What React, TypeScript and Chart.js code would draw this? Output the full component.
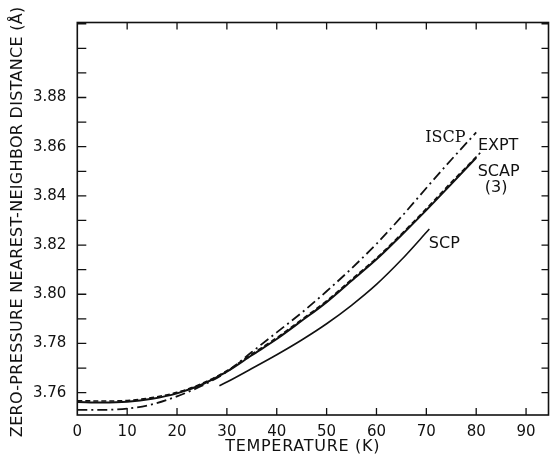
import React, { useEffect, useRef } from "react";
import { Chart, registerables } from "chart.js";

Chart.register(...registerables);

// ---- data (temperature in K, distance in Å) ----
const scapT = [0, 5, 10, 15, 20, 25, 30, 35, 40, 45, 50, 55, 60, 65, 70, 75, 80];
const scapD = [3.7562, 3.756, 3.7563, 3.7575, 3.7597, 3.7633, 3.7685, 3.7752, 3.7818, 3.7892, 3.7968, 3.8055, 3.8142, 3.824, 3.8342, 3.8448, 3.8555];

const exptT = [0, 5, 10, 15, 20, 25, 30, 35, 40, 45, 50, 55, 60, 65, 70, 75, 80.8];
const exptD = [3.7567, 3.7566, 3.7568, 3.758, 3.7601, 3.7637, 3.7689, 3.7757, 3.7823, 3.7897, 3.7973, 3.806, 3.8147, 3.8245, 3.8348, 3.8455, 3.8575];

const iscpT = [0, 5, 10, 15, 20, 25, 30, 35, 40, 45, 50, 55, 60, 65, 70, 75, 80];
const iscpD = [3.753, 3.753, 3.7535, 3.7552, 3.7585, 3.7628, 3.7685, 3.7765, 3.7845, 3.7925, 3.8012, 3.8105, 3.8205, 3.8315, 3.8432, 3.8547, 3.8658];

const scpT = [28.5, 30, 35, 40, 45, 50, 55, 60, 65, 70.6];
const scpD = [3.7628, 3.7643, 3.7698, 3.7754, 3.7814, 3.788, 3.7955, 3.804, 3.814, 3.8265];

const yLabelValues = [3.76, 3.78, 3.8, 3.82, 3.84, 3.86, 3.88];
const xTitle = "TEMPERATURE (K)";
const yTitle = "ZERO-PRESSURE NEAREST-NEIGHBOR DISTANCE (Å)";

// curve annotations: text, anchor temperature, anchor distance
const curveLabels = [
  { text: "ISCP", t: 73.8, d: 3.8637, serif: true },
  { text: "EXPT", t: 84.4, d: 3.8602, serif: false },
  { text: "SCAP", t: 84.5, d: 3.8496, serif: false },
  { text: "(3)", t: 84.0, d: 3.8433, serif: false },
  { text: "SCP", t: 73.6, d: 3.8203, serif: false },
];

const pts = (xs: number[], ys: number[]) => xs.map((x, i) => ({ x, y: ys[i] }));

const FONT = "'DejaVu Sans', sans-serif";

const framePlugin = {
  id: "frameAndTicks",
  afterDraw(chart: any) {
    const { ctx, chartArea: a, scales } = chart;
    const xs = scales.x;
    const ys = scales.y;
    ctx.save();
    ctx.strokeStyle = "#111";
    ctx.lineWidth = 1.6;
    ctx.strokeRect(a.left, a.top, a.right - a.left, a.bottom - a.top);
    ctx.lineWidth = 1.3;
    ctx.beginPath();
    xs.ticks.forEach((tk: any) => {
      if (tk.value <= 0) return;
      const px = xs.getPixelForValue(tk.value);
      ctx.moveTo(px, a.bottom);
      ctx.lineTo(px, a.bottom - 7);
      ctx.moveTo(px, a.top);
      ctx.lineTo(px, a.top + 7);
    });
    ys.ticks.forEach((tk: any) => {
      const py = ys.getPixelForValue(tk.value);
      if (py > a.bottom - 1 || py < a.top + 1) return;
      ctx.moveTo(a.left, py);
      ctx.lineTo(a.left + 9, py);
      ctx.moveTo(a.right, py);
      ctx.lineTo(a.right - 7, py);
    });
    ctx.stroke();

    ctx.fillStyle = "#111";
    // axis titles
    ctx.font = `16px ${FONT}`;
    ctx.textAlign = "center";
    ctx.textBaseline = "middle";
    (ctx as any).letterSpacing = "0.7px";
    ctx.fillText(xTitle, xs.getPixelForValue(45.2), 447);
    (ctx as any).letterSpacing = "0.3px";
    ctx.save();
    ctx.translate(18, (a.top + a.bottom) / 2 + 3);
    ctx.rotate(-Math.PI / 2);
    ctx.fillText(yTitle, 0, 0);
    ctx.restore();
    (ctx as any).letterSpacing = "0px";

    // curve labels
    curveLabels.forEach((l) => {
      ctx.font = l.serif ? `16px 'DejaVu Serif', serif` : `16px ${FONT}`;
      ctx.fillText(l.text, xs.getPixelForValue(l.t), ys.getPixelForValue(l.d));
    });
    ctx.restore();
  },
};

export default function App() {
  const ref = useRef<HTMLCanvasElement>(null);
  useEffect(() => {
    if (!ref.current) return;
    const common = { pointRadius: 0, borderColor: "#111", fill: false, cubicInterpolationMode: "monotone" as const };
    const chart = new Chart(ref.current, {
      type: "line",
      data: {
        datasets: [
          { label: "SCAP (3)", data: pts(scapT, scapD), borderWidth: 2, ...common },
          { label: "EXPT", data: pts(exptT, exptD), borderWidth: 1.6, borderDash: [5, 3], ...common },
          { label: "ISCP", data: pts(iscpT, iscpD), borderWidth: 1.8, borderDash: [10, 4, 2, 4], ...common },
          { label: "SCP", data: pts(scpT, scpD), borderWidth: 1.6, ...common },
        ],
      },
      options: {
        animation: false,
        responsive: false,
        layout: { padding: { top: 22.5, right: 2.5, left: 0, bottom: 0 } },
        plugins: { legend: { display: false }, tooltip: { enabled: false } },
        scales: {
          x: {
            type: "linear",
            min: 0,
            max: 94.5,
            grid: { display: false, drawTicks: false },
            border: { display: false },
            ticks: {
              stepSize: 10,
              includeBounds: false,
              padding: 8,
              color: "#111",
              font: { family: FONT, size: 15 },
              callback: (v: any) => String(Math.round(Number(v))),
            },
            afterFit: (s: any) => {
              s.height = 45;
            },
          },
          y: {
            type: "linear",
            min: 3.7509,
            max: 3.9105,
            grid: { display: false, drawTicks: false },
            border: { display: false },
            ticks: {
              stepSize: 0.01,
              includeBounds: false,
              padding: 11,
              color: "#111",
              font: { family: FONT, size: 15 },
              autoSkip: false,
              callback: (v: any) => {
                const n = Math.round(Number(v) * 100) / 100;
                return yLabelValues.some((y) => Math.abs(y - n) < 1e-6) ? n.toFixed(2) : "";
              },
            },
            afterFit: (s: any) => {
              s.width = 77.3;
            },
          },
        },
      },
      plugins: [framePlugin],
    });
    return () => chart.destroy();
  }, []);
  return (
    <div style={{ position: "fixed", left: 0, top: 0, width: 551, height: 460, background: "#fff" }}>
      <canvas ref={ref} width={551} height={460} />
    </div>
  );
}
